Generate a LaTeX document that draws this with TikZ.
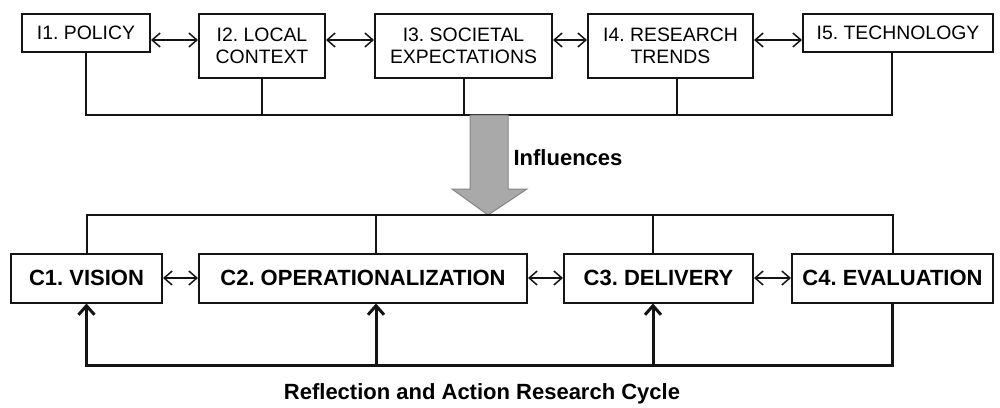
\documentclass[tikz,border=0pt]{standalone}
\usepackage{fontspec}
\setmainfont{Liberation Sans}
\usepackage{tikz}
\usetikzlibrary{arrows.meta,calc}
\definecolor{cLine}{HTML}{141414}
\definecolor{cArrow}{HTML}{A9A9A9}
\definecolor{cArrowB}{HTML}{858585}
\frenchspacing
\tikzset{
  ibox/.style={draw=cLine,line width=1pt,align=center,inner sep=0pt,
               font=\fontsize{9.7}{11}\selectfont},
  cbox/.style={draw=cLine,line width=1pt,align=center,inner sep=0pt,
               minimum height=24.5pt,font=\fontsize{11}{13}\selectfont\bfseries},
  dbl/.style ={{Straight Barb[length=4pt,width=7pt]}-{Straight Barb[length=4pt,width=7pt]},
               line width=0.75pt,cLine},
  bus/.style ={line width=1pt,cLine},
  fbk/.style ={-{Straight Barb[length=4.5pt,width=8pt]},line width=1.5pt,cLine},
  lbl/.style ={inner sep=0pt,font=\fontsize{11}{13}\selectfont\bfseries},
}
\begin{document}
\begin{tikzpicture}[x=0.5pt,y=-0.5pt]
  \useasboundingbox (0,0) rectangle (1000,407);
  % influences
  \node[ibox,minimum width=64pt,minimum height=19pt] (i1) at (86,33) {I1. POLICY};
  \node[ibox,minimum width=63pt,minimum height=32pt] (i2) at (262,46) {I2. LOCAL\\CONTEXT};
  \node[ibox,minimum width=88.5pt,minimum height=32pt] (i3) at (463.5,46) {I3. SOCIETAL\\EXPECTATIONS};
  \node[ibox,minimum width=82.5pt,minimum height=32pt] (i4) at (670.5,46) {I4. RESEARCH\\TRENDS};
  \node[ibox,minimum width=95pt,minimum height=19pt] (i5) at (898,33) {I5. TECHNOLOGY};
  \coordinate (ty) at (0,40);
  \coordinate (tb) at (0,115);
  \draw[dbl] (i1.east |- ty) -- (i2.west |- ty);
  \draw[dbl] (i2.east |- ty) -- (i3.west |- ty);
  \draw[dbl] (i3.east |- ty) -- (i4.west |- ty);
  \draw[dbl] (i4.east |- ty) -- (i5.west |- ty);
  \draw[bus] (i1.south) -- (i1.south |- tb) -| ([xshift=-3pt]i5.south);
  \draw[bus] (i2.south) -- (i2.south |- tb);
  \draw[bus] (i3.south) -- (i3.south |- tb);
  \draw[bus] ([xshift=3.25pt]i4.south) -- ([xshift=3.25pt]i4.south |- tb);
  % big arrow
  \coordinate (bb) at (0,215);
  \draw[fill=cArrow,draw=cArrowB,line width=0.5pt]
    (470,115) -- (508,115) -- (508,189) -- (527,189) -- (488,215)
    -- (452,189) -- (470,189) -- cycle;
  \node[lbl] (inf) at (568,158) {Influences};
  % cycle
  \node[cbox,minimum width=75.5pt] (c1) at (86.5,278) {C1. VISION};
  \node[cbox,minimum width=164pt] (c2) at (363,278) {C2. OPERATIONALIZATION};
  \node[cbox,minimum width=94.5pt] (c3) at (658.5,278) {C3. DELIVERY};
  \node[cbox,minimum width=100.5pt] (c4) at (892.5,278) {C4. EVALUATION};
  \draw[dbl] (c1) -- (c2);
  \draw[dbl] (c2) -- (c3);
  \draw[dbl] (c3) -- (c4);
  \draw[bus] (c1.north) -- (c1.north |- bb) -- (c4.north |- bb) -- (c4.north);
  \draw[bus] ([xshift=6.5pt]c2.north) -- ([xshift=6.5pt]c2.north |- bb);
  \draw[bus] ([xshift=-2.75pt]c3.north) -- ([xshift=-2.75pt]c3.north |- bb);
  \coordinate (fb) at (0,365);
  \draw[fbk] (c4.south) -- (c4.south |- fb) -- (c1.south |- fb) -- (c1.south);
  \draw[fbk] ([xshift=6.5pt]c2.south |- fb) -- ([xshift=6.5pt]c2.south);
  \draw[fbk] ([xshift=-2.75pt]c3.south |- fb) -- ([xshift=-2.75pt]c3.south);
  \node[lbl] (cap) at (482,394) {Reflection and Action Research Cycle};
\end{tikzpicture}
\end{document}
